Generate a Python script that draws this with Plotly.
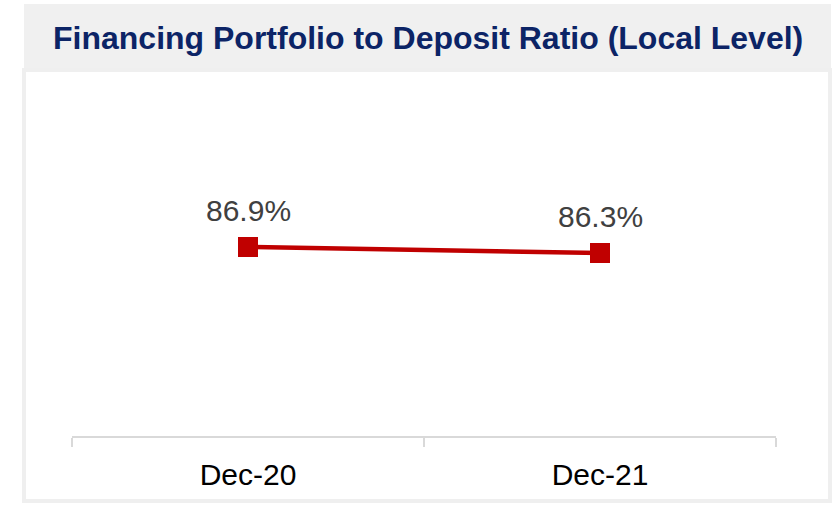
import plotly.graph_objects as go

categories = ["Dec-20", "Dec-21"]
values = [86.9, 86.3]
title_text = "Financing Portfolio to Deposit Ratio (Local Level)"

W, H = 835, 509
FONT = "Liberation Sans, Arial, sans-serif"

def px(x):
    return x / W

def py(y):
    return 1 - y / H

fig = go.Figure()
fig.add_trace(go.Scatter(
    x=categories, y=values, mode="lines+markers",
    line=dict(color="#c00000", width=4.5),
    marker=dict(symbol="square", size=20, color="#c00000"),
    hoverinfo="skip", showlegend=False,
))

annotations = [
    dict(x=c, y=v, xref="x", yref="y", text=f"{v:.1f}%", showarrow=False,
         yshift=37, font=dict(family=FONT, size=30, color="#404040"))
    for c, v in zip(categories, values)
]
annotations.append(dict(
    x=px(428), y=py(38), xref="paper", yref="paper", text=f"<b>{title_text}</b>",
    showarrow=False, xanchor="center", yanchor="middle",
    font=dict(family=FONT, size=32, color="#0c2466"),
))

shapes = [
    dict(type="rect", xref="paper", yref="paper", x0=px(24), x1=px(831), y0=py(70), y1=py(4),
         fillcolor="#f0f0f0", line=dict(width=0), layer="below"),
    dict(type="rect", xref="paper", yref="paper", x0=px(24), x1=px(830), y0=py(501), y1=py(70),
         fillcolor="white", line=dict(color="#efefef", width=4), layer="below"),
]

# y mapping: 10 px per unit, axis at y=436
y_top_px, y_bot_px = 90, 436
ppu = 10.0
y_min = values[0] - (y_bot_px - 247) / ppu
y_max = y_min + (y_bot_px - y_top_px) / ppu

fig.update_layout(
    width=W, height=H,
    margin=dict(l=0, r=0, t=0, b=0),
    paper_bgcolor="white", plot_bgcolor="rgba(0,0,0,0)",
    annotations=annotations, shapes=shapes,
    xaxis=dict(
        domain=[px(72), px(776)], range=[-0.5, 1.5], type="category",
        tickson="boundaries", ticks="outside", ticklen=9, tickwidth=2, tickcolor="#d9d9d9",
        showline=True, linecolor="#d9d9d9", linewidth=2, showgrid=False, zeroline=False,
        tickfont=dict(family=FONT, size=30, color="black"),
        ticklabelstandoff=11,
    ),
    yaxis=dict(
        domain=[py(y_bot_px), py(y_top_px)], range=[y_min, y_max],
        visible=False, showgrid=False, zeroline=False,
    ),
)

fig.write_html("out.html", config={"displayModeBar": False},
               post_script="document.body.style.margin='0px';")
